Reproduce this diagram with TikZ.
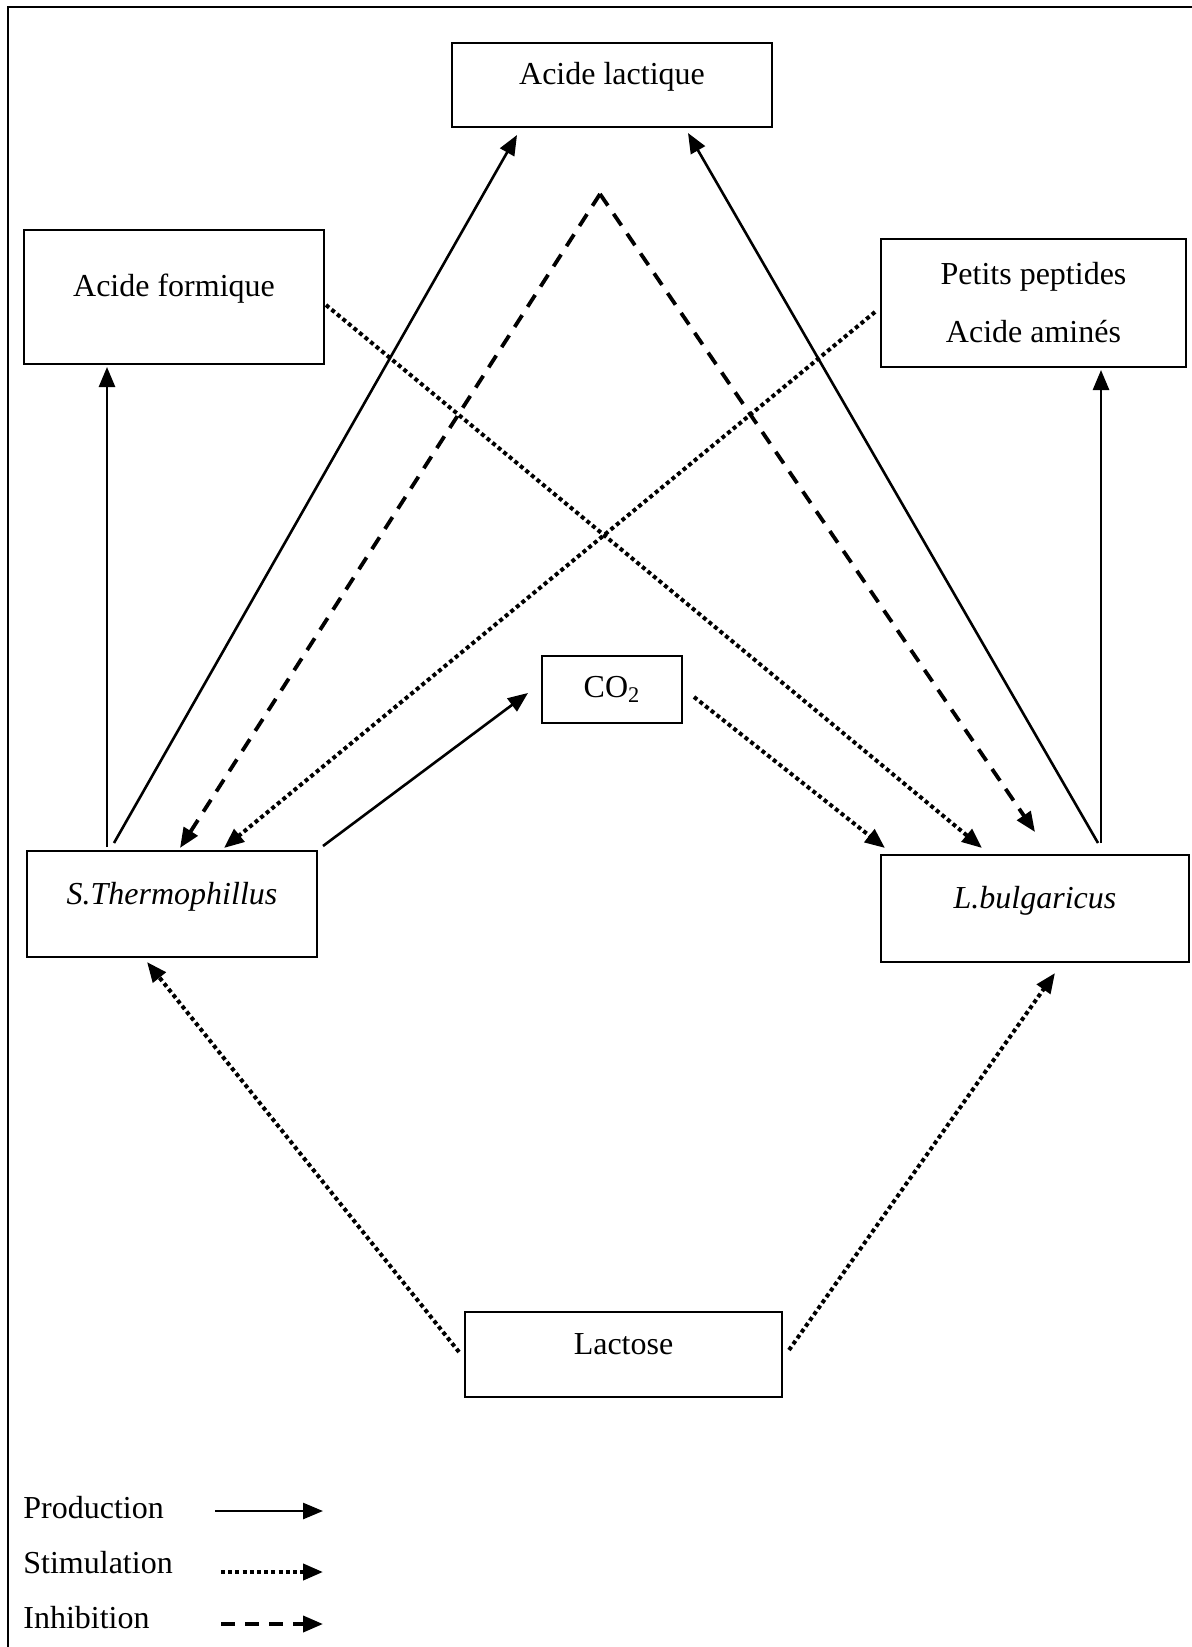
\documentclass[tikz,border=0pt]{standalone}
\usepackage{fontspec}
\setmainfont{Liberation Serif}
\usetikzlibrary{arrows.meta,calc}

\begin{document}
\begin{tikzpicture}[x=0.5pt,y=-0.5pt,
    every node/.style={font=\fontsize{16pt}{19pt}\selectfont},
    fleche/.tip={Triangle[length=10pt,width=8pt]},
    cadre/.style={draw,line width=1.4pt,outer sep=0pt,text height=12pt,text depth=12pt},
    prod/.style={line width=1.3pt,-fleche},
    stim/.style={line width=2pt,dash pattern=on 2pt off 1.6pt,-fleche},
    inhib/.style={line width=1.9pt,dash pattern=on 7pt off 5pt,-fleche}]
    \useasboundingbox (0,0) rectangle (1192,1647);
    % Page frame
    \draw[line width=1.4pt] (8,1660) -- (8,7) -- (1200,7);

    % Boxes
    \node[cadre,minimum width=160pt,minimum height=42pt] (lactique) at (612,85) {Acide lactique};
    \node[cadre,minimum width=150pt,minimum height=67pt] (formique) at (174,297) {Acide formique};
    \node[draw,line width=1.4pt,outer sep=0pt,minimum width=152.5pt,minimum height=64pt,align=center] (peptides) at (1033.5,303) {Petits peptides\\[10pt]Acide aminés};
    \node[draw,line width=1.4pt,outer sep=0pt,minimum width=70pt,minimum height=33.5pt] (co2) at (612,689.5) {CO\textsubscript{2}};
    \node[cadre,minimum width=145pt,minimum height=53pt] (therm) at (172,904) {\textit{S.Thermophillus}};
    \node[cadre,minimum width=154pt,minimum height=53.5pt] (bulg) at (1035,908.5) {\textit{L.bulgaricus}};
    \node[cadre,minimum width=158.5pt,minimum height=42.5pt] (lactose) at (623.5,1354.5) {Lactose};
    \coordinate (peak) at ($(lactique.south)+(-12,67)$);

    % Production
    \draw[prod] ($(therm.north west)+(80,-4)$) -- ($(formique.south west)+(83,3)$);
    \draw[prod] ($(therm.north west)+(87,-8)$) -- ($(lactique.south west)+(65,8)$);
    \draw[prod] ($(therm.north east)+(6,-5)$) -- ($(co2.south west)+(-14,-30)$);
    \draw[prod] ($(bulg.north west)+(217,-12)$) -- ($(lactique.south east)+(-84,6)$);
    \draw[prod] ($(bulg.north west)+(220,-12)$) -- ($(peptides.south west)+(220,3)$);

    % Stimulation
    \draw[stim] ($(formique.north east)+(2,75)$) -- ($(bulg.north west)+(101,-7)$);
    \draw[stim] ($(peptides.north west)+(-6,73)$) -- ($(therm.north west)+(197,-3)$);
    \draw[stim] ($(co2.north east)+(12,41)$) -- ($(bulg.north west)+(4,-7)$);
    \draw[stim] ($(lactose.north west)+(-6,40)$) -- ($(therm.south west)+(120,5)$);
    \draw[stim] ($(lactose.north east)+(7,38)$) -- ($(bulg.south west)+(174,11)$);

    % Inhibition
    \draw[inhib] (peak) -- ($(therm.north west)+(153,-3)$);
    \draw[inhib] (peak) -- ($(bulg.north west)+(154,-23)$);

    % Legend
    \foreach \lab/\sty/\yb/\ya/\xa [count=\i] in {Production/prod/1518/1511/215,Stimulation/stim/1573/1572/221,Inhibition/inhib/1628/1624/221} {
        \node[anchor=base west,inner sep=0pt] (leg\i) at (23,\yb) {\lab};
        \coordinate (deb\i) at (\xa,\ya);
        \coordinate (fin\i) at (323,\ya);
        \draw[\sty] (deb\i) -- (fin\i);
    }
\end{tikzpicture}
\end{document}
